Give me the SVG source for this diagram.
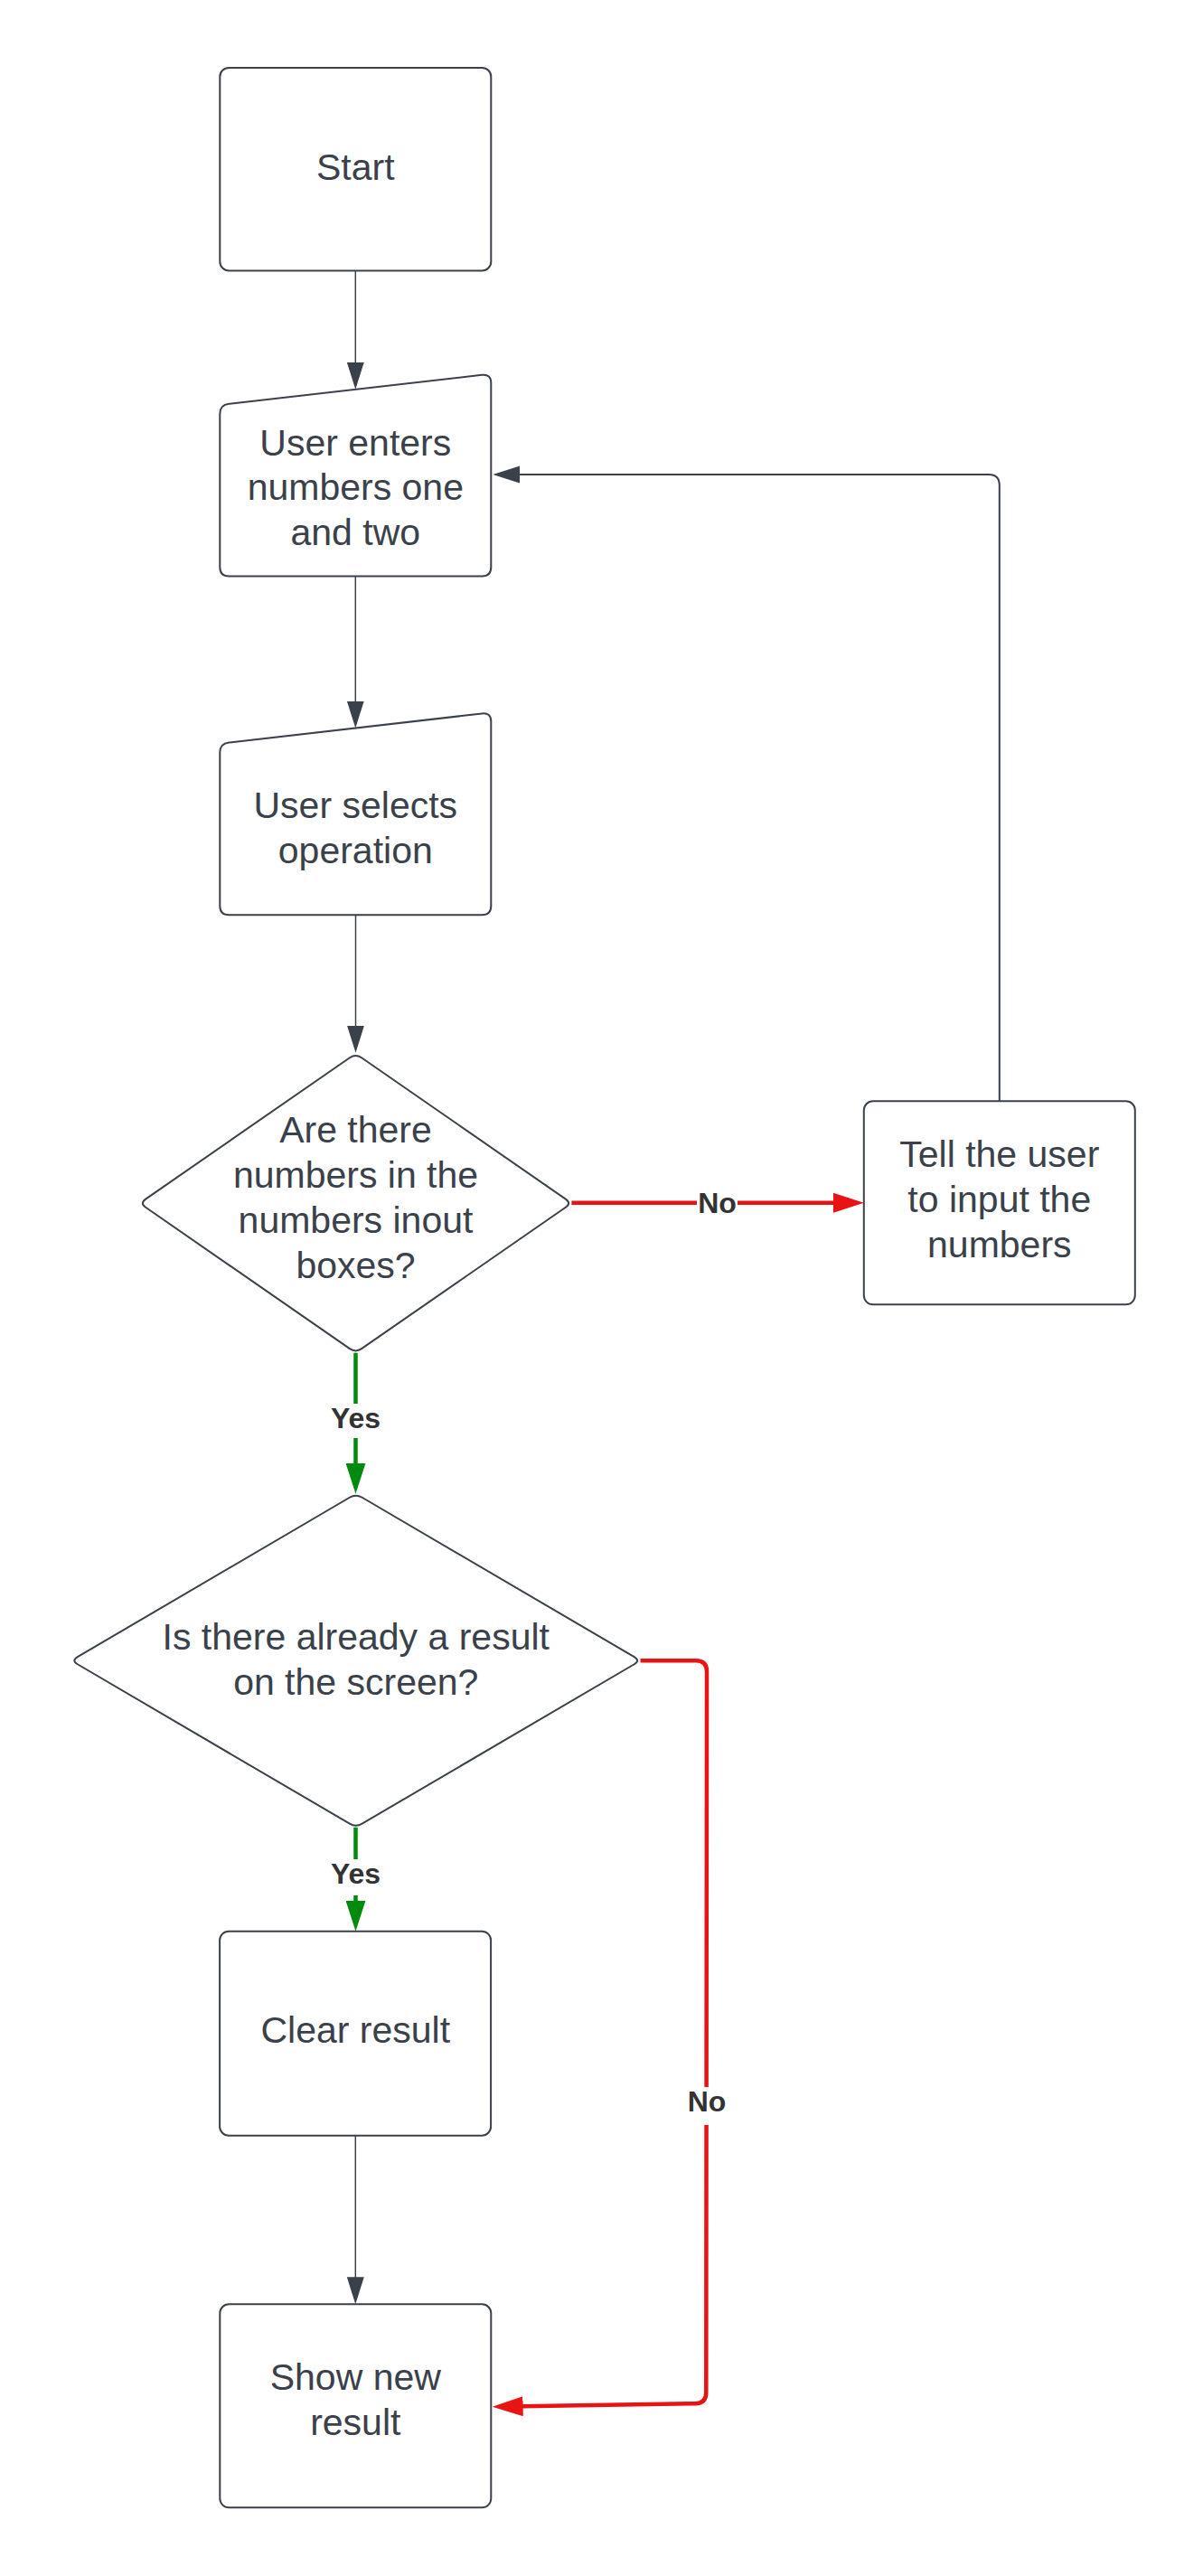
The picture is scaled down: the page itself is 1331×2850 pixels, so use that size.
<svg xmlns="http://www.w3.org/2000/svg" width="1331" height="2850" viewBox="0 0 1331 2850">
<style>
.node{fill:#ffffff;stroke:#3a414a;stroke-width:2}
.t{font-family:"Liberation Sans",Arial,sans-serif;font-size:41px;fill:#3a414a;text-anchor:middle}
.lbl{font-family:"Liberation Sans",Arial,sans-serif;font-size:32px;font-weight:bold;fill:#333333;text-anchor:middle}
.c{fill:none;stroke:#3a414a;stroke-width:1.5}
.loop{fill:none;stroke:#3a414a;stroke-width:2}
.red{fill:none;stroke:#e81313;stroke-width:4.5}
.green{fill:none;stroke:#008a0e;stroke-width:4.5}
.bg{fill:#ffffff}
</style>
<defs>
<marker id="ad" markerUnits="userSpaceOnUse" markerWidth="30" markerHeight="20" refX="1" refY="9.5" orient="auto"><path d="M0,0 L30,9.5 L0,19 Z" fill="#3a414a"/></marker>
<marker id="ar" markerUnits="userSpaceOnUse" markerWidth="34" markerHeight="22" refX="1" refY="11" orient="auto"><path d="M0,0 L34,11 L0,22 Z" fill="#e81313"/></marker>
<marker id="ag" markerUnits="userSpaceOnUse" markerWidth="34" markerHeight="22" refX="1" refY="11" orient="auto"><path d="M0,0 L34,11 L0,22 Z" fill="#008a0e"/></marker>
</defs>
<rect width="1331" height="2850" fill="#ffffff"/>
<g id="connectors">
<path class="c" d="M393.3 299.5 L393.3 401.8" marker-end="url(#ad)"/>
<path class="c" d="M393.3 637.4 L393.3 776.5" marker-end="url(#ad)"/>
<path class="c" d="M393.5 1012.3 L393.5 1135.7" marker-end="url(#ad)"/>
<path class="red" d="M632.4 1330.7 L922.8 1330.7" marker-end="url(#ar)"/>
<path class="loop" d="M1105.8 1218.3 L1105.8 537 Q1105.8 525 1093.8 525 L574.3 525" marker-end="url(#ad)"/>
<path class="green" d="M393.5 1496.7 L393.5 1619.7" marker-end="url(#ag)"/>
<path class="green" d="M393.5 2021.7 L393.5 2103.7" marker-end="url(#ag)"/>
<path class="c" d="M393.3 2362.7 L393.3 2520.3" marker-end="url(#ad)"/>
<path class="red" d="M708.6 1837.3 L770 1837.3 Q782 1837.3 782 1849.3 L781.3 2647 Q781.3 2659 769.3 2659.2 L577.6 2662.2" marker-end="url(#ar)"/>
<rect class="bg" x="771" y="1313" width="45" height="33"/>
<text class="lbl" x="793.5" y="1341.5">No</text>
<rect class="bg" x="361" y="1553" width="65" height="38"/>
<text class="lbl" x="393.5" y="1580">Yes</text>
<rect class="bg" x="361" y="2057" width="65" height="40"/>
<text class="lbl" x="393.5" y="2084">Yes</text>
<rect class="bg" x="761" y="2309" width="42" height="42"/>
<text class="lbl" x="782" y="2335.7">No</text>
</g>
<g id="start">
<rect class="node" x="243.3" y="74.9" width="300" height="224.6" rx="10"/>
<text class="t" x="393.3" y="198.5">Start</text>
</g>
<g id="enter-numbers">
<path class="node" d="M253.3 446.85 L533.3 414.75 Q543.3 413.6 543.3 423.6 L543.3 627.4 Q543.3 637.4 533.3 637.4 L253.3 637.4 Q243.3 637.4 243.3 627.4 L243.3 458 Q243.3 448 253.3 446.85 Z"/>
<text class="t" x="393.3" y="503.5">User enters</text>
<text class="t" x="393.3" y="553.3">numbers one</text>
<text class="t" x="393.3" y="603">and two</text>
</g>
<g id="select-operation">
<path class="node" d="M253.3 821.55 L533.3 789.45 Q543.3 788.3 543.3 798.3 L543.3 1002.3 Q543.3 1012.3 533.3 1012.3 L253.3 1012.3 Q243.3 1012.3 243.3 1002.3 L243.3 832.7 Q243.3 822.7 253.3 821.55 Z"/>
<text class="t" x="393.3" y="905">User selects</text>
<text class="t" x="393.3" y="954.5">operation</text>
</g>
<g id="check-numbers">
<path class="node" d="M400.08 1170.26 L625.82 1326.64 Q632.4 1331.2 625.82 1335.76 L400.08 1492.14 Q393.5 1496.7 386.92 1492.14 L161.18 1335.76 Q154.6 1331.2 161.18 1326.64 L386.92 1170.26 Q393.5 1165.7 400.08 1170.26 Z"/>
<text class="t" x="393.5" y="1264">Are there</text>
<text class="t" x="393.5" y="1314">numbers in the</text>
<text class="t" x="393.5" y="1364">numbers inout</text>
<text class="t" x="393.5" y="1414">boxes?</text>
</g>
<g id="tell-user">
<rect class="node" x="955.8" y="1218.3" width="300" height="225" rx="10"/>
<text class="t" x="1105.8" y="1290.7">Tell the user</text>
<text class="t" x="1105.8" y="1340.7">to input the</text>
<text class="t" x="1105.8" y="1390.7">numbers</text>
</g>
<g id="check-result">
<path class="node" d="M400.64 1656.76 L701.71 1833.14 Q708.6 1837.2 701.71 1841.26 L400.64 2017.64 Q393.75 2021.7 386.86 2017.64 L85.79 1841.26 Q78.9 1837.2 85.79 1833.14 L386.86 1656.76 Q393.75 1652.7 400.64 1656.76 Z"/>
<text class="t" x="393.75" y="1825">Is there already a result</text>
<text class="t" x="393.75" y="1875">on the screen?</text>
</g>
<g id="clear-result">
<rect class="node" x="243.1" y="2136.7" width="300" height="226" rx="10"/>
<text class="t" x="393.3" y="2260">Clear result</text>
</g>
<g id="show-result">
<rect class="node" x="243.3" y="2549.3" width="300" height="225" rx="10"/>
<text class="t" x="393.3" y="2644">Show new</text>
<text class="t" x="393.3" y="2694">result</text>
</g>
</svg>
